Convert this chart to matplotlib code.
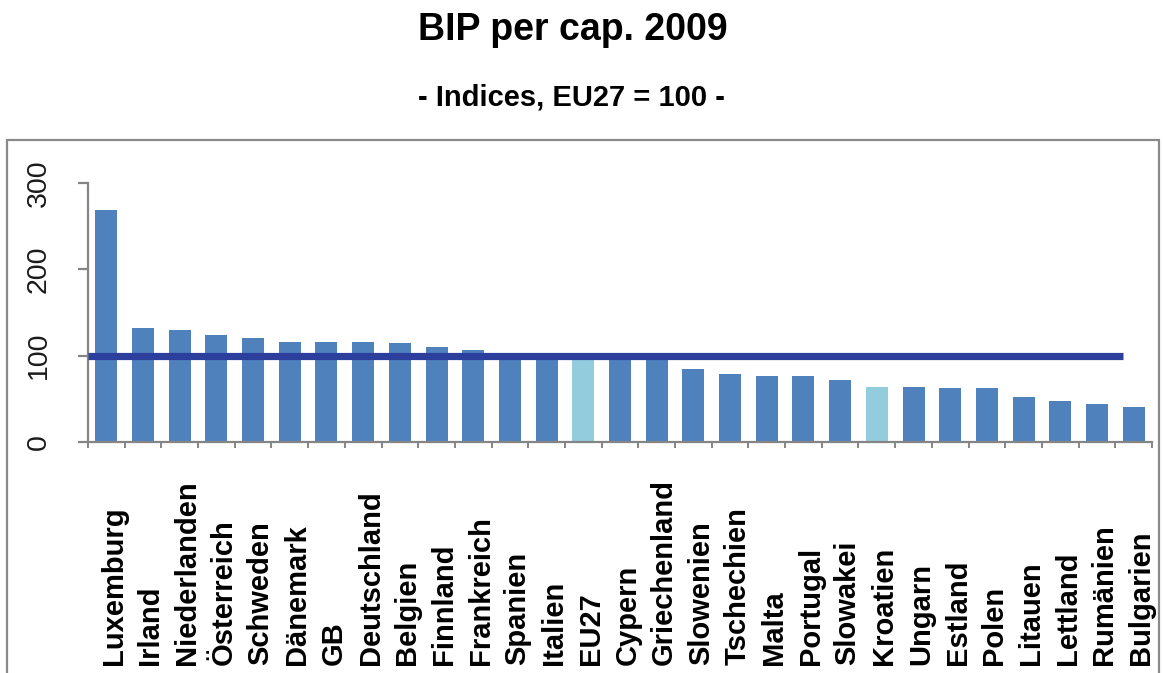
import matplotlib
matplotlib.use("Agg")
import matplotlib.pyplot as plt
import matplotlib.transforms as mtransforms
from matplotlib.patches import Rectangle

plt.rcParams['font.family'] = ['Liberation Sans', 'DejaVu Sans']

# ---- data ----
countries = ["Luxemburg", "Irland", "Niederlanden", "Österreich", "Schweden",
             "Dänemark", "GB", "Deutschland", "Belgien", "Finnland",
             "Frankreich", "Spanien", "Italien", "EU27", "Cypern",
             "Griechenland", "Slowenien", "Tschechien", "Malta", "Portugal",
             "Slowakei", "Kroatien", "Ungarn", "Estland", "Polen",
             "Litauen", "Lettland", "Rumänien", "Bulgarien"]
values = [269, 132, 130, 124, 120, 116, 116, 116, 115, 110,
          107, 101, 101, 100, 99, 98, 85, 79, 77, 77,
          72, 64, 64, 62, 62, 52, 48, 44, 41]
highlight = ["EU27", "Kroatien"]
eu_ref = 100
yticks = [0, 100, 200, 300]
title = "BIP per cap. 2009"
subtitle = "- Indices, EU27 = 100 -"

# ---- style ----
W, H = 1163, 673
base_col = "#4F81BD"
light_col = "#93CDDD"
line_col = "#2C3F9C"
axis_col = "#858585"

fig = plt.figure(figsize=(W / 100, H / 100), dpi=100)
fig.patch.set_facecolor("white")

left, right, bottom, top = 88, 1152, 442, 183
ax = fig.add_axes([left / W, 1 - bottom / H, (right - left) / W, (bottom - top) / H])

x = list(range(len(countries)))
colors = [light_col if c in highlight else base_col for c in countries]
ax.bar(x, values, width=0.6, color=colors, zorder=2)
ax.axhline(eu_ref, xmin=0, xmax=(1123 - left) / (right - left), color=line_col,
           lw=5.2, solid_capstyle="butt", zorder=3)

ax.set_xlim(-0.5, len(countries) - 0.5)
ax.set_ylim(0, 300)

# spines
for s in ["top", "right"]:
    ax.spines[s].set_visible(False)
for s in ["left", "bottom"]:
    ax.spines[s].set_color(axis_col)
    ax.spines[s].set_linewidth(1.6)

# y ticks
ax.set_yticks(yticks)
ax.set_yticklabels([str(v) for v in yticks], rotation=90, va="center",
                   fontsize=20.5, color="#1a1a1a")
ax.tick_params(axis="y", direction="out", length=7, width=1.6, color=axis_col, pad=19)

# x ticks at category boundaries
ax.set_xticks(x)
ax.set_xticklabels([])
ax.tick_params(axis="x", which="major", length=0)
ax.set_xticks([i - 0.5 for i in range(len(countries) + 1)], minor=True)
ax.tick_params(axis="x", which="minor", direction="out", length=4, width=1.4, color=axis_col)

# category labels, bottom-anchored, reading upward
trans = mtransforms.blended_transform_factory(ax.transData, fig.transFigure)
for i, c in enumerate(countries):
    ax.text(i + 0.2, 1 - 665 / H, c, rotation=90, ha="center", va="bottom",
            fontsize=21, fontweight="bold", color="black", transform=trans,
            clip_on=False)

# titles
fig.text(573 / W, 1 - 30 / H, title, ha="center", va="center",
         fontsize=27, fontweight="bold")
fig.text(571 / W, 1 - 97 / H, subtitle, ha="center", va="center",
         fontsize=21, fontweight="bold")

# outer frame
fig.patches.append(Rectangle((7 / W, -0.02), (1159 - 7) / W, (H - 140) / H + 0.02,
                             transform=fig.transFigure, fill=False,
                             ec="#8a8a8a", lw=1.6))

fig.savefig("out.png", dpi=100)
